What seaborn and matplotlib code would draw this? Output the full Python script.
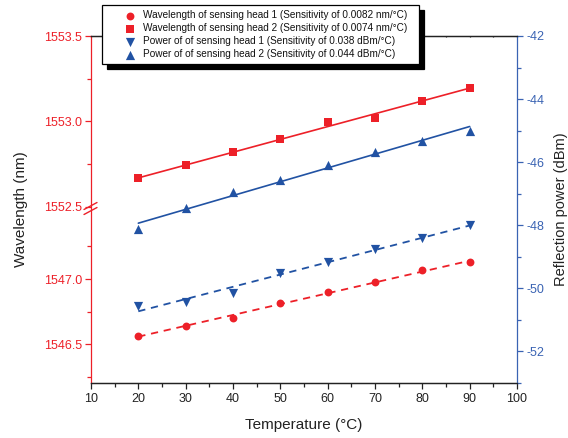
import numpy as np
import pandas as pd
import matplotlib
matplotlib.use("Agg")
import matplotlib.pyplot as plt
import seaborn as sns

# ---------------- data ----------------
temperature = [20, 30, 40, 50, 60, 70, 80, 90]
wl_head1 = [1546.564, 1546.642, 1546.704, 1546.814, 1546.898, 1546.977, 1547.067, 1547.128]
wl_head2 = [1552.666, 1552.741, 1552.818, 1552.893, 1552.994, 1553.020, 1553.121, 1553.196]
pw_head1 = [-50.56, -50.42, -50.14, -49.52, -49.16, -48.76, -48.39, -47.99]
pw_head2 = [-48.13, -47.46, -46.95, -46.56, -46.09, -45.68, -45.33, -45.01]

labels = [
    "Wavelength of sensing head 1 (Sensitivity of 0.0082 nm/\u00b0C)",
    "Wavelength of sensing head 2 (Sensitivity of 0.0074 nm/\u00b0C)",
    "Power of of sensing head 1 (Sensitivity of 0.038 dBm/\u00b0C)",
    "Power of of sensing head 2 (Sensitivity of 0.044 dBm/\u00b0C)",
]
wl_major_ticks = [1546.5, 1547.0, 1552.5, 1553.0, 1553.5]
wl_minor_ticks = [1546.25, 1546.75, 1547.25, 1552.75, 1553.25]
wl_tick_labels = ["1546.5", "1547.0", "1552.5", "1553.0", "1553.5"]
pw_major_ticks = [-52, -50, -48, -46, -44, -42]
pw_minor_ticks = [-53, -51, -49, -47, -45, -43]
x_major_ticks = list(range(10, 101, 10))
x_minor_ticks = list(range(15, 100, 10))

df = pd.DataFrame({"T": temperature, "wl1": wl_head1, "wl2": wl_head2,
                   "pw1": pw_head1, "pw2": pw_head2})

RED = "#ED2028"
BLUE = "#2152A3"
BLUE_AX = "#3A63B3"

sns.set_theme(style="ticks")
plt.rcParams["font.family"] = ["Liberation Sans", "DejaVu Sans"]
plt.rcParams["axes.linewidth"] = 0.9

# ---------------- broken wavelength scale ----------------
# piecewise linear: lower segment 1546.2..1547.5, upper 1552.5..1553.5
_wb = np.array([1530.0, 1547.5, 1552.5, 1570.0])
_vb = np.array([(1530.0 - 1546.5) * 130.6 + 38.7,
                (1547.5 - 1546.5) * 130.6 + 38.7,
                347.0 - 1.0 * 170.5,
                347.0 + 16.5 * 170.5])


def fwd(w):
    return np.interp(np.asarray(w, dtype=float), _wb, _vb)


def inv(v):
    return np.interp(np.asarray(v, dtype=float), _vb, _wb)


fig = plt.figure(figsize=(5.68, 4.38), dpi=100)
ax = fig.add_axes([91 / 568, 55 / 438, 426 / 568, 347 / 438])
ax.set_yscale("function", functions=(fwd, inv))
ax2 = ax.twinx()

ms = 32
# wavelength (left axis)
sns.regplot(data=df, x="T", y="wl1", ax=ax, scatter=False, ci=None, color=RED,
            line_kws=dict(lw=1.3, ls=(0, (4, 3.2))))
sns.regplot(data=df, x="T", y="wl2", ax=ax, scatter=False, ci=None, color=RED,
            line_kws=dict(lw=1.2))
sns.scatterplot(data=df, x="T", y="wl1", ax=ax, marker="o", color=RED, s=ms,
                linewidth=0, label=labels[0], legend=False, zorder=5)
sns.scatterplot(data=df, x="T", y="wl2", ax=ax, marker="s", color=RED, s=ms,
                linewidth=0, label=labels[1], legend=False, zorder=5)

# power (right axis)
sns.regplot(data=df, x="T", y="pw1", ax=ax2, scatter=False, ci=None, color=BLUE,
            line_kws=dict(lw=1.3, ls=(0, (4, 3.2))))
sns.regplot(data=df, x="T", y="pw2", ax=ax2, scatter=False, ci=None, color=BLUE,
            line_kws=dict(lw=1.2))
sns.scatterplot(data=df, x="T", y="pw1", ax=ax2, marker="v", color=BLUE, s=44,
                linewidth=0, label=labels[2], legend=False, zorder=5)
sns.scatterplot(data=df, x="T", y="pw2", ax=ax2, marker="^", color=BLUE, s=44,
                linewidth=0, label=labels[3], legend=False, zorder=5)

# ---------------- axes styling ----------------
ax.set_xlim(10, 100)
ax.set_ylim(float(inv(0.0)), 1553.5)
ax2.set_ylim(-53, -42)

ax.set_xticks(x_major_ticks)
ax.set_xticks(x_minor_ticks, minor=True)
ax.set_yticks(wl_major_ticks)
ax.set_yticklabels(wl_tick_labels)
ax.set_yticks(wl_minor_ticks, minor=True)
ax2.set_yticks(pw_major_ticks)
ax2.set_yticks(pw_minor_ticks, minor=True)
ax2.set_yticklabels([str(v) for v in pw_major_ticks])

for a in (ax, ax2):
    for s in a.spines.values():
        s.set_visible(True)
        s.set_linewidth(0.9)
        s.set_color("#222222")
ax.spines["left"].set_color(RED)
ax2.spines["left"].set_visible(False)
ax2.spines["right"].set_color(BLUE_AX)
ax.spines["right"].set_visible(False)

ax.tick_params(axis="x", which="major", direction="out", length=4.5, width=0.9,
               color="#222222", labelsize=9, labelcolor="#222222", pad=3,
               top=True)
ax.tick_params(axis="x", which="minor", direction="out", length=2.8, width=0.9,
               color="#222222", top=True)
for t in ax.xaxis.get_major_ticks() + ax.xaxis.get_minor_ticks():
    t.tick2line.set_markersize(1.0)
    t.tick2line.set_marker(3)
    t.tick2line.set_color("#777777")

ax.tick_params(axis="y", which="major", direction="out", length=4.5, width=0.9,
               color=RED, labelsize=9, labelcolor=RED, pad=2)
ax.tick_params(axis="y", which="minor", direction="out", length=2.8, width=0.9,
               color=RED)
ax2.tick_params(axis="y", which="major", direction="out", length=4.5, width=0.9,
                color=BLUE_AX, labelsize=9, labelcolor=BLUE_AX, pad=2)
ax2.tick_params(axis="y", which="minor", direction="out", length=2.8, width=0.9,
                color=BLUE_AX)

ax.set_xlabel("Temperature (\u00b0C)", fontsize=11, color="#222222", labelpad=9)
ax.set_ylabel("Wavelength (nm)", fontsize=11, color="#222222", labelpad=11)
ax2.set_ylabel("Reflection power (dBm)", fontsize=10.5, color="#222222", labelpad=7)

# axis break marks
W, H = 426.0, 347.0
for dy in (0.0, 5.0):
    ax.plot([(84 - 91) / W, (97 - 91) / W],
            [(383 - 212 - dy + 2.5) / H, (383 - 205 - dy + 2.5) / H],
            transform=ax.transAxes, color=RED, lw=1.0, clip_on=False, zorder=10)

# ---------------- legend ----------------
h1, l1 = ax.get_legend_handles_labels()
h2, l2 = ax2.get_legend_handles_labels()
leg = fig.legend(h1 + h2, l1 + l2, loc="upper left",
                 bbox_to_anchor=(101.7 / 568, 1 - 5.3 / 438, 317 / 568, 0.0),
                 bbox_transform=fig.transFigure, mode="expand",
                 borderaxespad=0, fontsize=7.2, frameon=True, fancybox=False,
                 edgecolor="black", framealpha=1, borderpad=0.5,
                 handlelength=4.7, handletextpad=-1.05, labelspacing=0.3,
                 scatterpoints=1,
                 shadow={"ox": 3.5, "oy": -3.5, "shade": 1.0, "alpha": 1.0})
leg.get_frame().set_linewidth(0.9)
for t in leg.get_texts():
    t.set_color("#111111")

fig.savefig("out.png", dpi=100)
